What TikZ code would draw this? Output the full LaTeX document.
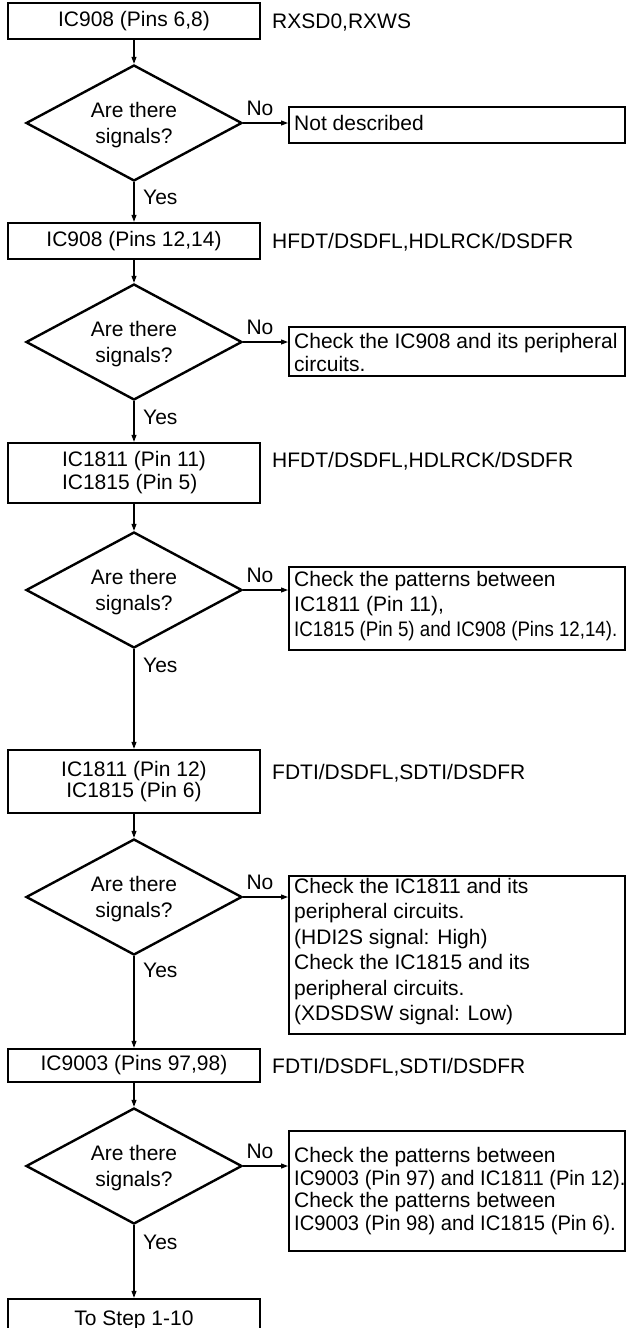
\documentclass[tikz,border=0pt]{standalone}
\usepackage{fontspec}
\setmainfont{Liberation Sans}
\usetikzlibrary{arrows.meta,shapes.geometric}
\begin{document}
\begin{tikzpicture}[x=1pt,y=-1pt,
  font=\fontsize{21}{25}\selectfont,
  box/.style={draw,line width=2.4pt,minimum width=252pt,inner sep=0pt,align=center},
  nbox/.style={draw,line width=2.4pt,minimum width=336pt,inner sep=0pt,anchor=north west},
  dia/.style={draw,diamond,line width=2.4pt,minimum width=216pt,minimum height=116pt,inner sep=0pt},
  qtxt/.style={inner sep=0pt,align=center,font=\fontsize{21}{26}\selectfont},
  arr/.style={line width=1.1pt,-{Triangle[length=7pt,width=5pt]}},
  lbl/.style={anchor=base west,inner sep=0pt},
  nolbl/.style={anchor=base,inner sep=0pt},
  txt/.style={anchor=north west,inner sep=0pt,align=left}]
\useasboundingbox (0,0) rectangle (626,1328);
% ---- step 1
\node[box,minimum height=36pt] (b1) at (134,21) {IC908 (Pins 6,8)};
\node[lbl] (l1) at (272,28.5) {RXSD0,RXWS};
\node[dia] (d1) at (134,123) {};
\node[qtxt] (q1) at (134,125) {Are there\\signals?};
\node[nbox,minimum height=36pt] (n1) at (288,106) {};
\node[txt] (t1) at (294,115) {Not described};
\node[nolbl] (no1) at (260,115.5) {No};
\node[lbl] (y1) at (143,204.5) {Yes};
\draw[arr] (b1.south) -- (d1.north);
\draw[arr] (d1.east) -- (d1.east -| n1.west);
% ---- step 2
\node[box,minimum height=36pt] (b2) at (134,241) {IC908 (Pins 12,14)};
\node[lbl] (l2) at (272,248.5) {HFDT/DSDFL,HDLRCK/DSDFR};
\node[dia] (d2) at (134,342) {};
\node[qtxt] (q2) at (134,344) {Are there\\signals?};
\node[nbox,minimum height=49pt] (n2) at (288,326) {};
\node[txt,font=\fontsize{21}{23}\selectfont] (t2) at (294,333) {Check the IC908 and its peripheral\\circuits.};
\node[nolbl] (no2) at (260,334.5) {No};
\node[lbl] (y2) at (143,424.5) {Yes};
\draw[arr] (d1.south) -- (b2.north);
\draw[arr] (b2.south) -- (d2.north);
\draw[arr] (d2.east) -- (d2.east -| n2.west);
% ---- step 3
\node[box,minimum height=60pt,align=left,font=\fontsize{21}{23}\selectfont] (b3) at (134,473) {IC1811 (Pin 11)\\IC1815 (Pin 5)};
\node[lbl] (l3) at (272,467.5) {HFDT/DSDFL,HDLRCK/DSDFR};
\node[dia] (d3) at (134,590) {};
\node[qtxt] (q3) at (134,592) {Are there\\signals?};
\node[nbox,minimum height=83pt] (n3) at (288,566) {};
\node[txt,font=\fontsize{21}{25}\selectfont] (t3) at (294,571) {Check the patterns between\\IC1811 (Pin 11),\\{\addfontfeatures{FakeStretch=0.89}IC1815 (Pin 5) and IC908 (Pins 12,14).}};
\node[nolbl] (no3) at (260,582.5) {No};
\node[lbl] (y3) at (143,672.5) {Yes};
\draw[arr] (d2.south) -- (b3.north);
\draw[arr] (b3.south) -- (d3.north);
\draw[arr] (d3.east) -- (d3.east -| n3.west);
% ---- step 4
\node[box,minimum height=63pt,font=\fontsize{21}{21}\selectfont] (b4) at (134,781.5) {IC1811 (Pin 12)\\IC1815 (Pin 6)};
\node[lbl] (l4) at (272,779.5) {FDTI/DSDFL,SDTI/DSDFR};
\node[dia] (d4) at (134,897) {};
\node[qtxt] (q4) at (134,899) {Are there\\signals?};
\node[nbox,minimum height=158pt] (n4) at (288,875) {};
\node[txt,font=\fontsize{21}{25.4}\selectfont] (t4) at (294,878) {Check the IC1811 and its\\peripheral circuits.\\(HDI2S signal: High)\\Check the IC1815 and its\\peripheral circuits.\\(XDSDSW signal: Low)};
\node[nolbl] (no4) at (260,889.5) {No};
\node[lbl] (y4) at (143,977.5) {Yes};
\draw[arr] (d3.south) -- (b4.north);
\draw[arr] (b4.south) -- (d4.north);
\draw[arr] (d4.east) -- (d4.east -| n4.west);
% ---- step 5
\node[box,minimum height=33pt] (b5) at (134,1065.5) {IC9003 (Pins 97,98)};
\node[lbl] (l5) at (272,1073.5) {FDTI/DSDFL,SDTI/DSDFR};
\node[dia] (d5) at (134,1166) {};
\node[qtxt] (q5) at (134,1168) {Are there\\signals?};
\node[nbox,minimum height=120pt] (n5) at (288,1130) {};
\node[txt,font=\fontsize{21}{22.7}\selectfont] (t5) at (294,1147) {Check the patterns between\\{\addfontfeatures{FakeStretch=0.96}IC9003 (Pin 97) and IC1811 (Pin 12).}\\Check the patterns between\\{\addfontfeatures{FakeStretch=0.96}IC9003 (Pin 98) and IC1815 (Pin 6).}};
\node[nolbl] (no5) at (260,1158.5) {No};
\node[lbl] (y5) at (143,1249.5) {Yes};
\draw[arr] (d4.south) -- (b5.north);
\draw[arr] (b5.south) -- (d5.north);
\draw[arr] (d5.east) -- (d5.east -| n5.west);
% ---- end
\node[box,minimum height=42pt] (b6) at (134,1320) {To Step 1-10};
\draw[arr] (d5.south) -- (b6.north);
\end{tikzpicture}
\end{document}
